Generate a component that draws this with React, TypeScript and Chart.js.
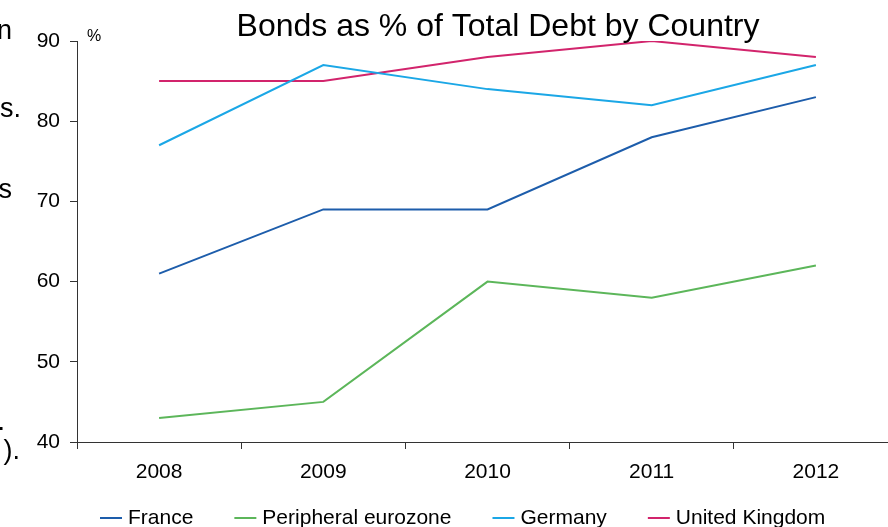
import React, { useEffect, useRef } from "react";
import { Chart, registerables } from "chart.js";

Chart.register(...registerables);

const years = ["2008", "2009", "2010", "2011", "2012"];
const france = [61, 69, 69, 78, 83];
const peripheral = [43, 45, 60, 58, 62];
const germany = [77, 87, 84, 82, 87];
const uk = [85, 85, 88, 90, 88];
const seriesNames = ["France", "Peripheral eurozone", "Germany", "United Kingdom"];
const seriesColors = ["#1d5dab", "#5cb65a", "#1ba7e6", "#d2246c"];
const titleText = "Bonds as % of Total Debt by Country";
const unitText = "%";
const sideFragments = [
  { text: "n", x: 12, y: 39 },
  { text: "s.", x: 21, y: 117 },
  { text: "s", x: 12, y: 198 },
  { text: ".", x: 5, y: 430 },
  { text: ").", x: 20, y: 459 },
];

const FONT = "'Liberation Sans', Arial, sans-serif";

const extrasPlugin = {
  id: "extras",
  afterDraw(chart: any) {
    const ctx = chart.ctx;
    ctx.save();
    ctx.fillStyle = "#000";
    // title
    ctx.font = `32px ${FONT}`;
    ctx.textAlign = "center";
    ctx.textBaseline = "alphabetic";
    ctx.fillText(titleText, 498, 36);
    // unit
    ctx.font = `16px ${FONT}`;
    ctx.textAlign = "left";
    ctx.fillText(unitText, 87, 41);
    // side fragments
    ctx.font = `27px ${FONT}`;
    ctx.textAlign = "right";
    sideFragments.forEach((f) => ctx.fillText(f.text, f.x, f.y));
    // legend
    ctx.font = `21px ${FONT}`;
    ctx.textAlign = "left";
    ctx.textBaseline = "middle";
    let x = 100;
    const y = 518;
    chart.data.datasets.forEach((ds: any) => {
      ctx.strokeStyle = ds.borderColor;
      ctx.lineWidth = 2;
      ctx.beginPath();
      ctx.moveTo(x, y);
      ctx.lineTo(x + 22, y);
      ctx.stroke();
      ctx.fillStyle = "#000";
      ctx.fillText(ds.label, x + 28, y);
      x += 28 + ctx.measureText(ds.label).width + 41;
    });
    ctx.restore();
  },
};

export default function App() {
  const ref = useRef<HTMLCanvasElement>(null);
  useEffect(() => {
    if (!ref.current) return;
    const values = [france, peripheral, germany, uk];
    const chart = new Chart(ref.current, {
      type: "line",
      data: {
        labels: years,
        datasets: values.map((v, i) => ({
          label: seriesNames[i],
          data: v,
          borderColor: seriesColors[i],
          backgroundColor: seriesColors[i],
          borderWidth: 2,
          pointRadius: 0,
          tension: 0,
          fill: false,
        })),
      },
      options: {
        responsive: false,
        animation: false,
        layout: { padding: { left: 0, top: 41, right: 22, bottom: 0 } },
        plugins: {
          legend: { display: false },
          title: { display: false },
          tooltip: { enabled: false },
        },
        scales: {
          x: {
            offset: true,
            grid: {
              offset: true,
              drawOnChartArea: false,
              drawTicks: true,
              tickLength: 7,
              color: "#333",
            },
            border: { display: true, color: "#333", width: 1 },
            ticks: { color: "#000", font: { size: 21, family: FONT }, padding: 11, maxRotation: 0 },
            afterFit: (s: any) => {
              s.height = 85;
            },
          },
          y: {
            min: 40,
            max: 90,
            grid: {
              drawOnChartArea: false,
              drawTicks: true,
              tickLength: 7,
              color: "#333",
            },
            border: { display: true, color: "#333", width: 1 },
            ticks: { stepSize: 10, color: "#000", font: { size: 21, family: FONT }, padding: 10 },
            afterFit: (s: any) => {
              s.width = 77;
            },
          },
        },
      },
      plugins: [extrasPlugin],
    });
    return () => chart.destroy();
  }, []);
  return (
    <div
      style={{
        position: "fixed",
        left: 0,
        top: 0,
        width: 888,
        height: 527,
        overflow: "hidden",
        background: "#fff",
      }}
    >
      <canvas ref={ref} width={920} height={527} style={{ display: "block" }} />
    </div>
  );
}
